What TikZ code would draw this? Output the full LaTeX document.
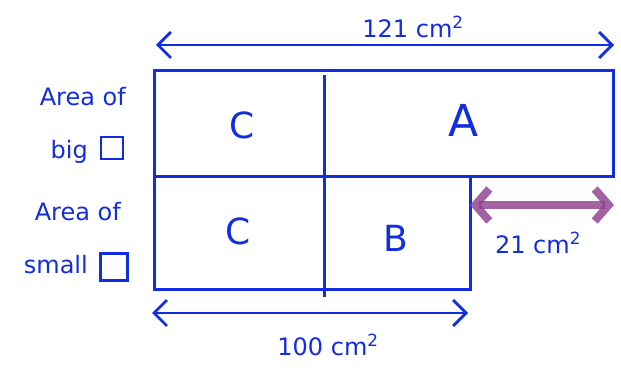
\documentclass[tikz,border=0pt]{standalone}
\usepackage{fontspec}
\setmainfont{DejaVu Sans}
\usetikzlibrary{arrows.meta}
\definecolor{pen}{RGB}{18,45,225}
\definecolor{purp}{RGB}{140,60,140}
\begin{document}
\begin{tikzpicture}[x=1pt,y=-1pt,
  ink/.style={draw=pen,line width=3pt,line join=miter},
  txt/.style={text=pen,font=\fontsize{24}{28}\selectfont,inner sep=0pt},
  big/.style={text=pen,font=\fontsize{36}{40}\selectfont,inner sep=0pt},
  dim/.style={draw=pen,line width=2.8pt,{Straight Barb[length=13pt,width=26pt,line width=2.8pt]}-{Straight Barb[length=13pt,width=26pt,line width=2.8pt]}},
  gap/.style={draw=purp,draw opacity=0.8,line width=8pt,{Straight Barb[length=14pt,width=32pt,line width=8pt]}-{Straight Barb[length=14pt,width=32pt,line width=8pt]}}]
\useasboundingbox (0,0) rectangle (621,371);
% rectangles
\coordinate (t1) at (154,71);
\coordinate (t2) at (613,177);
\coordinate (b1) at (154,177);
\coordinate (b2) at (470,290);
\coordinate (d1) at (324,75);
\coordinate (d2) at (324,297);
\draw[ink] (t1) rectangle (t2);
\draw[ink] (b1) rectangle (b2);
\draw[ink] (d1) -- (d2);
% letters
\node[big] (c1) at (242,125) {C};
\node[big,font=\fontsize{44}{48}\selectfont] (a) at (464,120) {A};
\node[big] (c2) at (238,231) {C};
\node[big] (b) at (396,238) {B};
% top arrow
\coordinate (ta1) at (156,45);
\coordinate (ta2) at (614,45);
\draw[dim] (ta1) -- (ta2);
\node[txt] (l121) at (413,27) {121 cm\textsuperscript{2}};
% bottom arrow
\coordinate (ba1) at (152,313);
\coordinate (ba2) at (468,313);
\draw[dim] (ba1) -- (ba2);
\node[txt] (l100) at (328,345) {100 cm\textsuperscript{2}};
% purple gap arrow
\coordinate (pa1) at (470,205);
\coordinate (pa2) at (614,205);
\draw[gap] (pa1) -- (pa2);
\node[txt] (l21) at (538,243) {21 cm\textsuperscript{2}};
% left labels
\node[txt,anchor=east] (ab) at (126,97) {Area of};
\node[txt,anchor=east] (bg) at (88,152) {big};
\node[draw=pen,line width=2.6pt,minimum size=22pt,inner sep=0pt] (sq1) at (112,148) {};
\node[txt,anchor=east] (as) at (121,212) {Area of};
\node[txt,anchor=east] (sm) at (88,265) {small};
\node[draw=pen,line width=2.6pt,minimum size=27pt,inner sep=0pt] (sq2) at (114,267) {};
\end{tikzpicture}
\end{document}
